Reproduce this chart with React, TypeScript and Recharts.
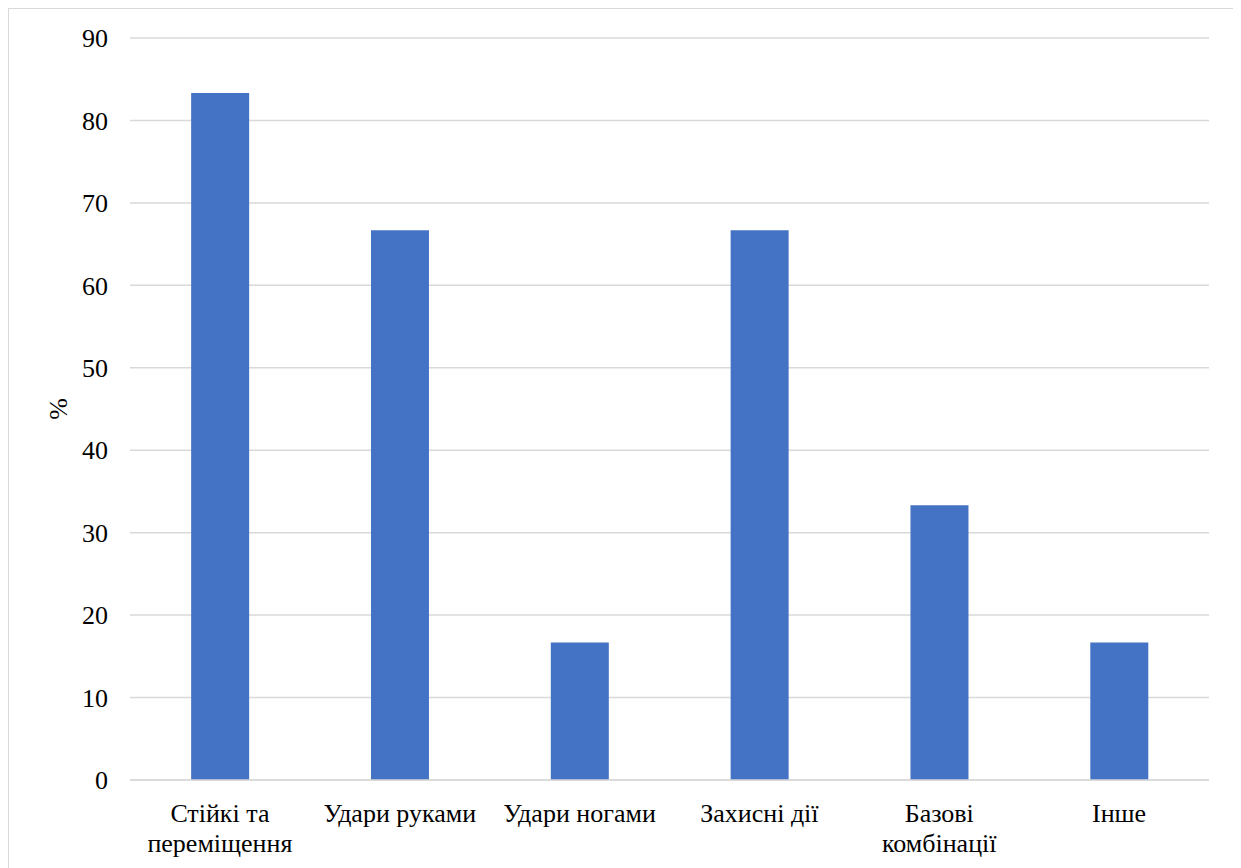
import React from 'react';
import { BarChart, Bar, XAxis, YAxis, CartesianGrid, Label } from 'recharts';

const categories = ['Стійкі та\nпереміщення', 'Удари руками', 'Удари ногами', 'Захисні дії', 'Базові\nкомбінації', 'Інше'];
const values = [83.33, 66.67, 16.67, 66.67, 33.33, 16.67];
const yTicks = [0, 10, 20, 30, 40, 50, 60, 70, 80, 90];

const data = categories.map((c, i) => ({ name: c, value: values[i] }));

const FONT = '"Liberation Serif", "DejaVu Serif", serif';

const XTick = (props: any) => {
  const { x, y, payload } = props;
  const lines = String(payload.value).split('\n');
  return (
    <text x={x} y={y} textAnchor="middle" style={{ fontFamily: FONT, fontSize: 26 }} fill="#000">
      {lines.map((l, i) => (
        <tspan key={i} x={x} dy={i === 0 ? 34 : 30}>{l}</tspan>
      ))}
    </text>
  );
};

export default function App() {
  return (
    <div style={{ width: 1227, height: 860, border: '1px solid #d9d9d9', background: '#fff' }}>
      <BarChart width={1227} height={860} data={data} margin={{ top: 29, right: 27, left: 0, bottom: 29 }} barCategoryGap="34%">
        <CartesianGrid vertical={false} stroke="#d9d9d9" strokeWidth={1.5} />
        <XAxis dataKey="name" axisLine={{ stroke: '#d9d9d9', strokeWidth: 1.5 }} tickLine={false} interval={0} height={60} tick={<XTick />} />
        <YAxis
          domain={[0, 90]}
          ticks={yTicks}
          width={121}
          axisLine={false}
          tickLine={false}
          tickMargin={16}
          tick={{ fontFamily: FONT, fontSize: 26, fill: '#000', style: { fontFamily: FONT } }}
        >
          <Label value="%" angle={-90} position="insideLeft" offset={49} style={{ fontFamily: FONT, fontSize: 26, fill: '#000', textAnchor: 'middle' }} />
        </YAxis>
        <Bar dataKey="value" fill="#4472C4" isAnimationActive={false} />
      </BarChart>
    </div>
  );
}
